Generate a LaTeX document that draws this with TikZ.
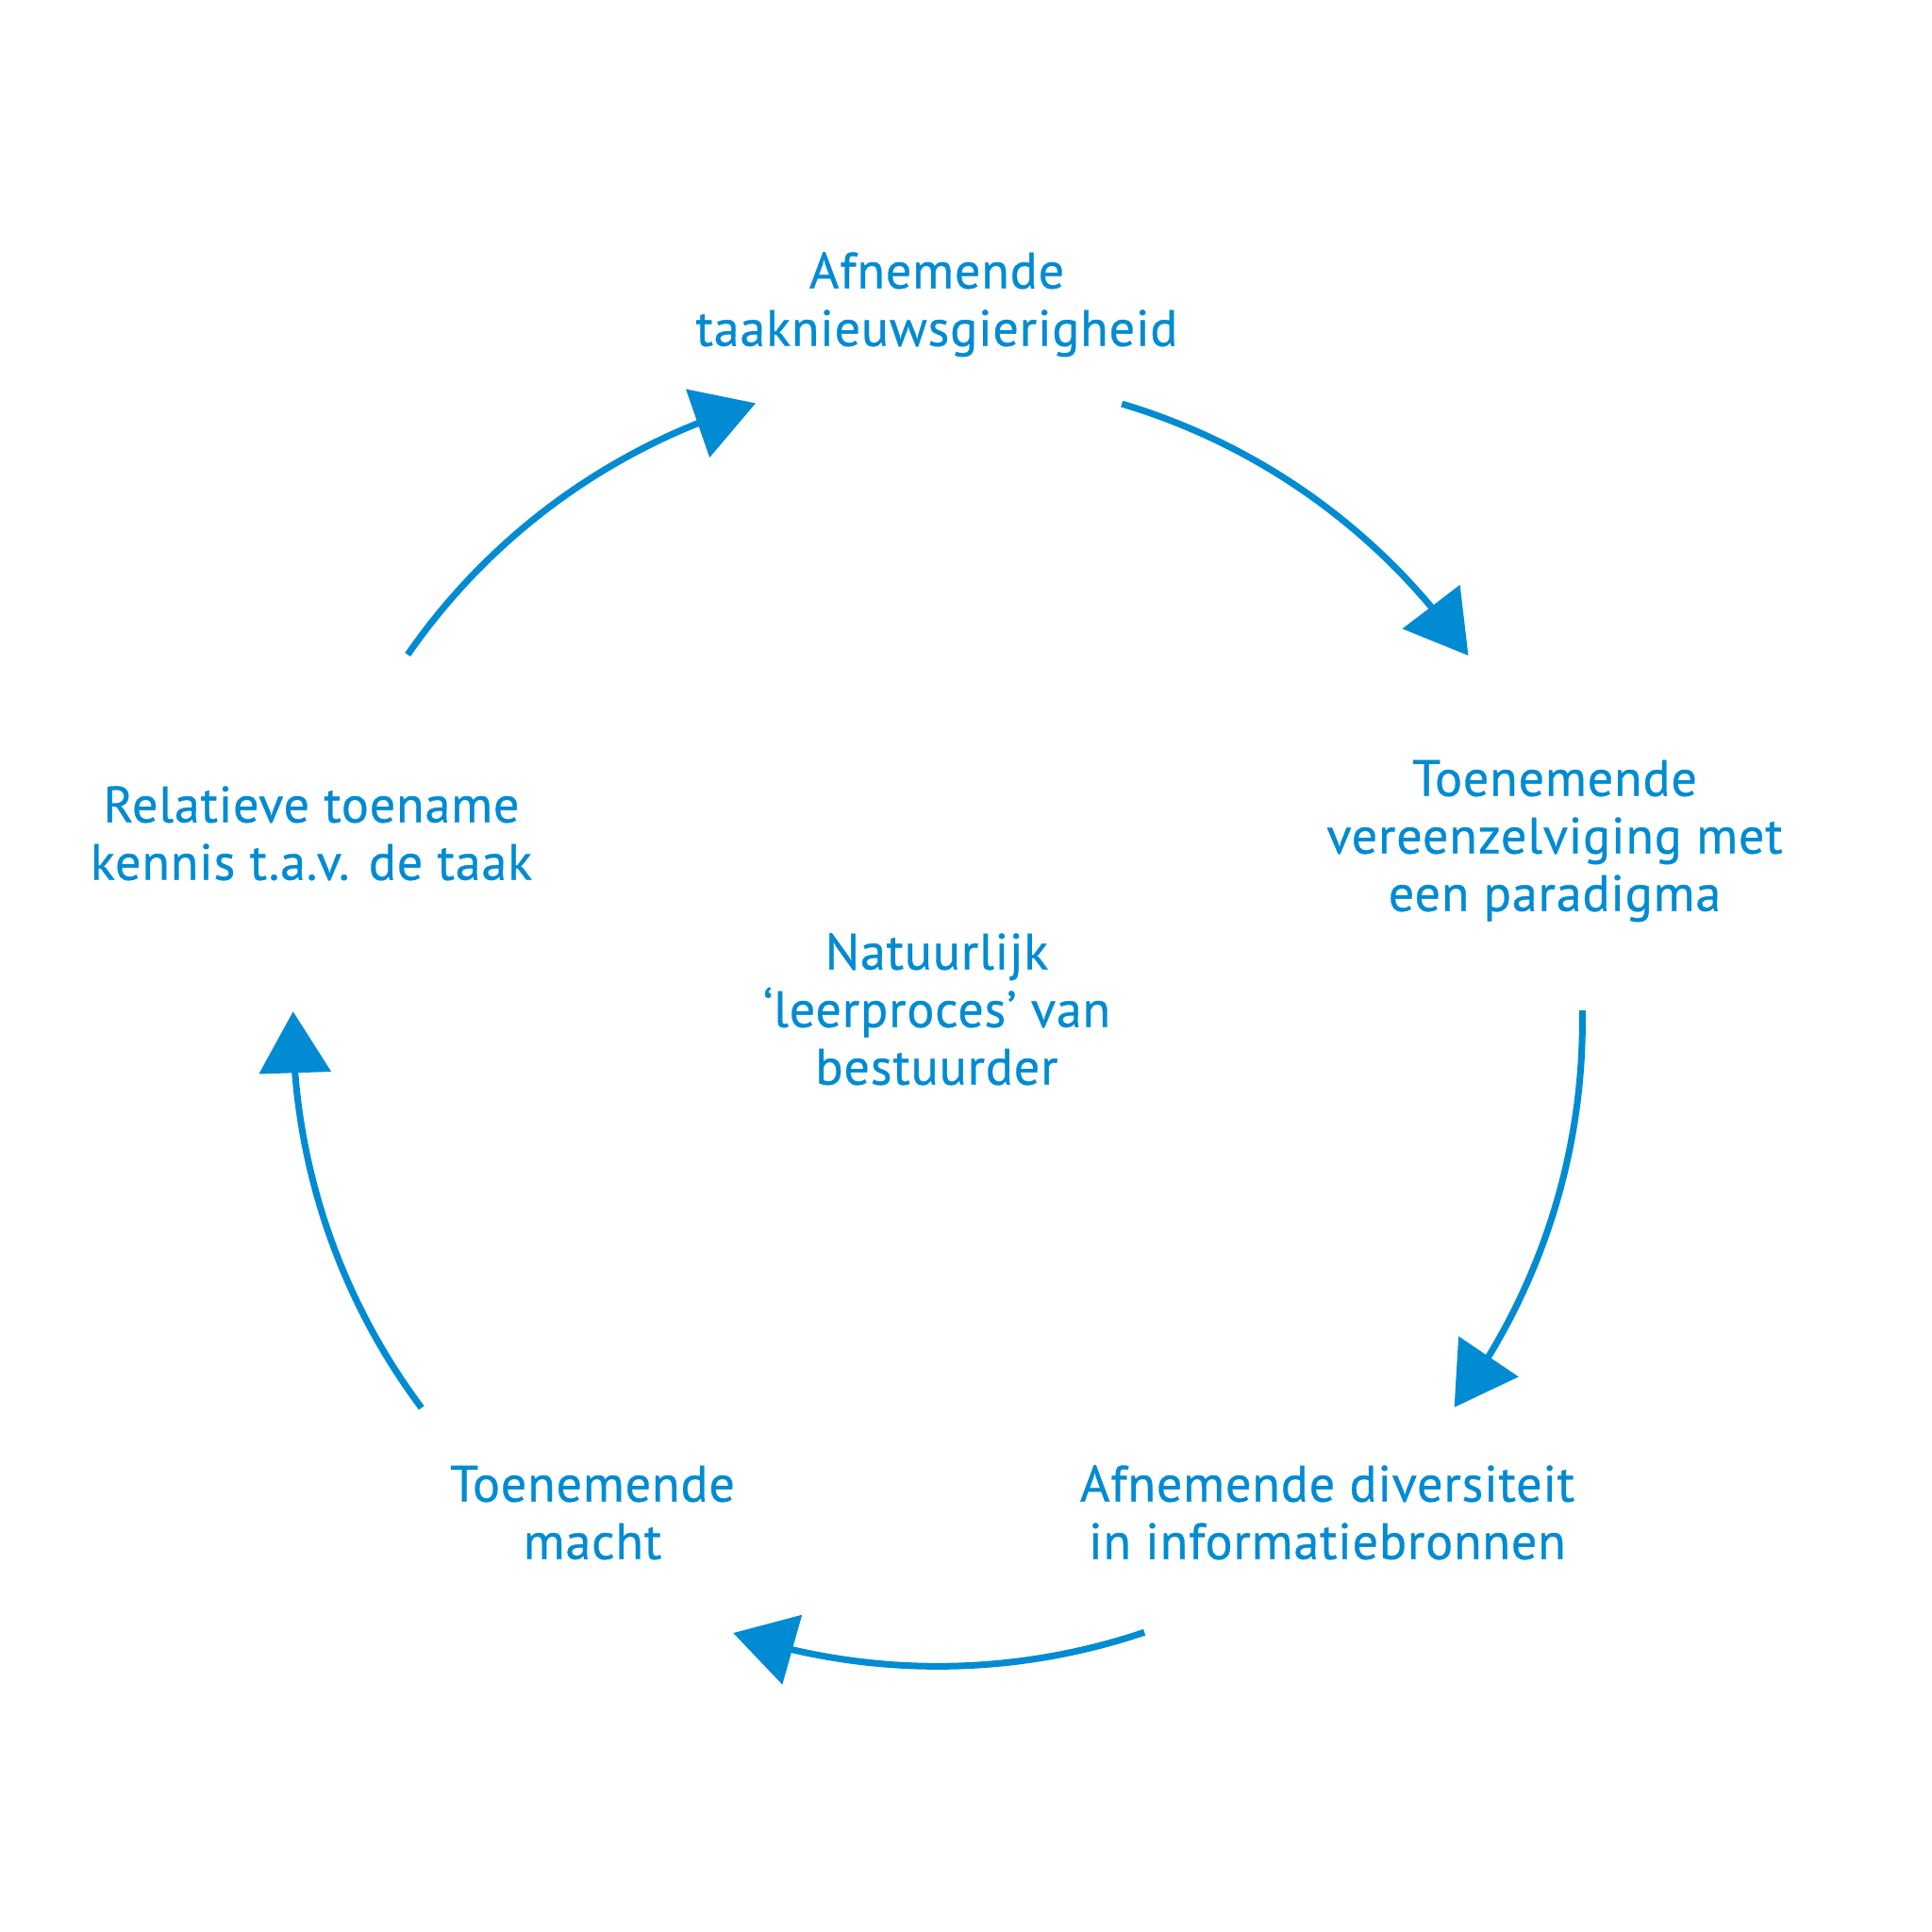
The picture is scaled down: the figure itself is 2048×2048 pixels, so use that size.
\documentclass[tikz,border=0pt]{standalone}
\usepackage{fontspec}
\setmainfont{PT Sans}[UprightFeatures={FakeBold=0.6}, LetterSpace=1.5]
\usetikzlibrary{arrows.meta,bending,calc}
\definecolor{dblue}{HTML}{008BD2}
\newcommand{\fl}{\rule{0pt}{14pt}}
\begin{document}
\begin{tikzpicture}[x=0.01cm,y=0.01cm,
  lbl/.style={anchor=north, inner sep=0pt, align=center, text=dblue, yshift=14pt,
    font=\fontsize{15.4}{17.35}\selectfont},
  cyc/.style={draw=dblue, line width=0.7mm, -{Triangle[length=6.5mm,width=7.5mm,flex]}}]
\useasboundingbox[fill=white] (0,0) rectangle (2048,2048);
\coordinate (C) at (994,965);
% labels
\node[lbl] (ntop) at (993,1743) {\fl Afnemende\\taaknieuwsgierigheid};
\node[lbl] (nright) at (1648,1205) {\fl Toenemende\\vereenzelviging met\\een paradigma};
\node[lbl] (nbr) at (1407,457) {\fl Afnemende diversiteit\\in informatiebronnen};
\node[lbl] (nbl) at (628,457) {\fl Toenemende\\macht};
\node[lbl] (nleft) at (330,1177) {\fl Relatieve toename\\kennis t.a.v. de taak};
\node[lbl] (ncenter) at (993,1021) {\fl Natuurlijk\\‘leerproces’ van\\bestuurder};
% arc end points on the circle
\coordinate (a1) at ($(C)+(73.4:6.83cm)$);
\coordinate (a2) at ($(C)+(1.0:6.83cm)$);
\coordinate (a3) at ($(C)+(-71.3:6.83cm)$);
\coordinate (a4) at ($(C)+(-143.2:6.83cm)$);
\coordinate (a5) at ($(C)+(145.3:6.83cm)$);
\draw[cyc] (a1) arc[start angle=73.4, end angle=34.6, radius=6.83cm];
\draw[cyc] (a2) arc[start angle=1.0, end angle=-36.75, radius=6.83cm];
\draw[cyc] (a3) arc[start angle=-71.3, end angle=-108.5, radius=6.83cm];
\draw[cyc] (a4) arc[start angle=-143.2, end angle=-180.9, radius=6.83cm];
\draw[cyc] (a5) arc[start angle=145.3, end angle=106.4, radius=6.83cm];
\end{tikzpicture}
\end{document}
